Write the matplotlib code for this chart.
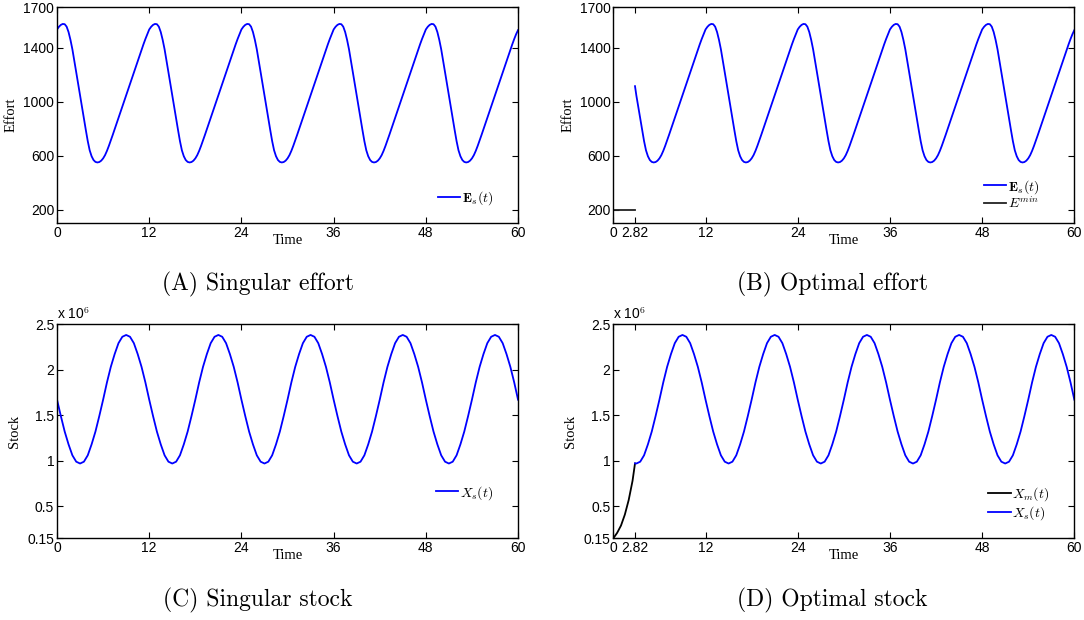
import numpy as np
import matplotlib
matplotlib.use('Agg')
from matplotlib import pyplot as plt

plt.rcParams['mathtext.fontset'] = 'cm'
plt.rcParams['axes.unicode_minus'] = False

# time grids: effort read every 0.25, stock every 0.5 time units
time_e = np.arange(0, 60.25, 0.25)
time_x = np.arange(0, 60.5, 0.5)

# singular effort E_s(t)
effort_s = [
    1535, 1555, 1569, 1576, 1574, 1556, 1516, 1458, 1388, 1305, 1218, 1132,
    1045, 960, 875, 790, 708, 640, 596, 568, 554, 550, 553, 563,
    580, 604, 636, 673, 713, 754, 796, 838, 880, 922, 964, 1006,
    1048, 1090, 1132, 1174, 1216, 1258, 1300, 1342, 1384, 1425, 1464, 1500,
    1535, 1555, 1569, 1576, 1574, 1556, 1516, 1458, 1388, 1305, 1218, 1132,
    1045, 960, 875, 790, 708, 640, 596, 568, 554, 550, 553, 563,
    580, 604, 636, 673, 713, 754, 796, 838, 880, 922, 964, 1006,
    1048, 1090, 1132, 1174, 1216, 1258, 1300, 1342, 1384, 1425, 1464, 1500,
    1535, 1555, 1569, 1576, 1574, 1556, 1516, 1458, 1388, 1305, 1218, 1132,
    1045, 960, 875, 790, 708, 640, 596, 568, 554, 550, 553, 563,
    580, 604, 636, 673, 713, 754, 796, 838, 880, 922, 964, 1006,
    1048, 1090, 1132, 1174, 1216, 1258, 1300, 1342, 1384, 1425, 1464, 1500,
    1535, 1555, 1569, 1576, 1574, 1556, 1516, 1458, 1388, 1305, 1218, 1132,
    1045, 960, 875, 790, 708, 640, 596, 568, 554, 550, 553, 563,
    580, 604, 636, 673, 713, 754, 796, 838, 880, 922, 964, 1006,
    1048, 1090, 1132, 1174, 1216, 1258, 1300, 1342, 1384, 1425, 1464, 1500,
    1535, 1555, 1569, 1576, 1574, 1556, 1516, 1458, 1388, 1305, 1218, 1132,
    1045, 960, 875, 790, 708, 640, 596, 568, 554, 550, 553, 563,
    580, 604, 636, 673, 713, 754, 796, 838, 880, 922, 964, 1006,
    1048, 1090, 1132, 1174, 1216, 1258, 1300, 1342, 1384, 1425, 1464, 1500,
    1530,
]

# singular stock X_s(t) in units of 1e6
stock_s = [
    1.67, 1.49, 1.32, 1.18, 1.06, 0.99, 0.97, 0.99, 1.06, 1.18, 1.32, 1.49,
    1.67, 1.86, 2.03, 2.17, 2.29, 2.36, 2.38, 2.36, 2.29, 2.17, 2.03, 1.86,
    1.67, 1.49, 1.32, 1.18, 1.06, 0.99, 0.97, 0.99, 1.06, 1.18, 1.32, 1.49,
    1.67, 1.86, 2.03, 2.17, 2.29, 2.36, 2.38, 2.36, 2.29, 2.17, 2.03, 1.86,
    1.67, 1.49, 1.32, 1.18, 1.06, 0.99, 0.97, 0.99, 1.06, 1.18, 1.32, 1.49,
    1.67, 1.86, 2.03, 2.17, 2.29, 2.36, 2.38, 2.36, 2.29, 2.17, 2.03, 1.86,
    1.67, 1.49, 1.32, 1.18, 1.06, 0.99, 0.97, 0.99, 1.06, 1.18, 1.32, 1.49,
    1.67, 1.86, 2.03, 2.17, 2.29, 2.36, 2.38, 2.36, 2.29, 2.17, 2.03, 1.86,
    1.67, 1.49, 1.32, 1.18, 1.06, 0.99, 0.97, 0.99, 1.06, 1.18, 1.32, 1.49,
    1.67, 1.86, 2.03, 2.17, 2.29, 2.36, 2.38, 2.36, 2.29, 2.17, 2.03, 1.86,
    1.67,
]

# switching time and the optimal pieces before / at it
t_switch = 2.82
e_min = 200
effort_at_switch = 1115
stock_at_switch = 0.972
t_m = [0, 0.5, 1.0, 1.5, 2.0, 2.5, 2.82]
stock_m = [0.15, 0.21, 0.29, 0.41, 0.57, 0.78, 0.97]

xticks_s = [0, 12, 24, 36, 48, 60]
xticks_o = [0, 2.82, 12, 24, 36, 48, 60]
effort_yticks = [200, 600, 1000, 1400, 1700]
stock_yticks = [0.15, 0.5, 1, 1.5, 2, 2.5]

BLUE = (0, 0, 1)
TICK_FONT = 'Liberation Sans'
LABEL_FONT = 'Liberation Serif'


def style_axes(ax, xticks, yticks, ylim, ylabel, ylab_x):
    ax.set_xlim(0, 60)
    ax.set_ylim(*ylim)
    ax.set_xticks(xticks)
    ax.set_xticklabels([('%g' % v) for v in xticks])
    ax.set_yticks(yticks)
    ax.set_yticklabels([('%g' % v) for v in yticks])
    ax.tick_params(direction='in', top=True, right=True, length=4, width=0.8,
                   labelsize=10, pad=2)
    for lab in ax.get_xticklabels() + ax.get_yticklabels():
        lab.set_family(TICK_FONT)
    for s in ax.spines.values():
        s.set_linewidth(1.0)
    ax.set_xlabel('Time', family=LABEL_FONT, fontsize=10.5)
    ax.xaxis.set_label_coords(0.5, -0.05)
    ax.set_ylabel(ylabel, family=LABEL_FONT, fontsize=10.5)
    ax.yaxis.set_label_coords(ylab_x, 0.5)


def legend(ax, right, bottom, spacing=0.1):
    ax.legend(loc='lower right', bbox_to_anchor=(right, bottom), frameon=False,
              fontsize=10, handlelength=1.6, handletextpad=0.1,
              labelspacing=spacing, borderaxespad=0)


fig = plt.figure(figsize=(10.84, 6.2), dpi=100)
w = 0.4253
ax_a = fig.add_axes([0.0526, 0.640, w, 0.3484])
ax_b = fig.add_axes([0.5658, 0.640, w, 0.3484])
ax_c = fig.add_axes([0.0526, 0.1318, w, 0.3456])
ax_d = fig.add_axes([0.5658, 0.1318, w, 0.3456])

after = time_e >= 3
time_eo = [t_switch] + list(time_e[after])
effort_o = [effort_at_switch] + list(np.array(effort_s)[after])
after = time_x >= 3
time_xo = [t_switch] + list(time_x[after])
stock_o = [stock_at_switch] + list(np.array(stock_s)[after])

# (A) singular effort
ax_a.plot(time_e, effort_s, color=BLUE, lw=1.3, label=r'$\mathbf{E}_s(t)$')
style_axes(ax_a, xticks_s, effort_yticks, (100, 1700), 'Effort', -0.085)
legend(ax_a, 0.958, 0.05)

# (B) optimal effort
ax_b.plot(time_eo, effort_o, color=BLUE, lw=1.3, label=r'$\mathbf{E}_s(t)$')
ax_b.plot([0, t_switch], [e_min, e_min], color='#222222', lw=1.3, label=r'$E^{min}$')
style_axes(ax_b, xticks_o, effort_yticks, (100, 1700), 'Effort', -0.085)
legend(ax_b, 0.936, 0.03, spacing=0.0)

# (C) singular stock
ax_c.plot(time_x, stock_s, color=BLUE, lw=1.3, label=r'$X_s(t)$')
style_axes(ax_c, xticks_s, stock_yticks, (0.15, 2.5), 'Stock', -0.078)
legend(ax_c, 0.958, 0.145)

# (D) optimal stock
ax_d.plot(t_m, stock_m, color='k', lw=1.3, label=r'$X_m(t)$')
ax_d.plot(time_xo, stock_o, color=BLUE, lw=1.3, label=r'$X_s(t)$')
style_axes(ax_d, xticks_o, stock_yticks, (0.15, 2.5), 'Stock', -0.078)
legend(ax_d, 0.958, 0.05)

for ax in (ax_c, ax_d):
    ax.text(0.0, 1.01, r'x 10$^{6}$', transform=ax.transAxes, family=TICK_FONT,
            fontsize=10, ha='left', va='bottom')

captions = [
    (0.238, 0.542, '(A) Singular effort'),
    (0.768, 0.542, '(B) Optimal effort'),
    (0.238, 0.032, '(C) Singular stock'),
    (0.768, 0.032, '(D) Optimal stock'),
]
for x, y, s in captions:
    fig.text(x, y, s, family='cmr10', fontsize=17, ha='center', va='center')

fig.savefig('out.png', dpi=100)
